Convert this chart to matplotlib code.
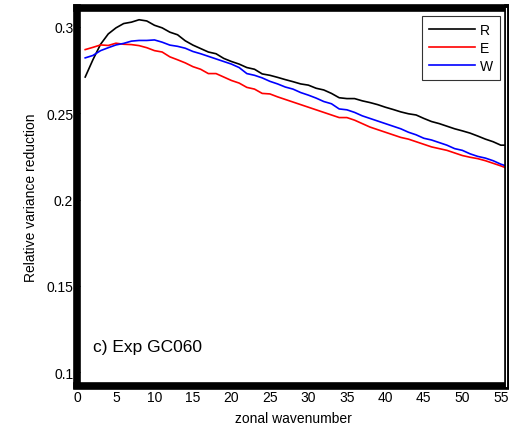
import matplotlib
matplotlib.use("Agg")
import matplotlib.pyplot as plt
import numpy as np

plt.rcParams['font.family'] = ['Liberation Sans', 'DejaVu Sans']

wavenumber = list(range(1, 57))

var_red_R = [0.2710, 0.2810, 0.2900, 0.2960, 0.2995, 0.3020, 0.3028, 0.3042,
             0.3035, 0.3010, 0.2995, 0.2970, 0.2955, 0.2920, 0.2895, 0.2875,
             0.2855, 0.2845, 0.2818, 0.2800, 0.2785, 0.2765, 0.2755, 0.2728,
             0.2720, 0.2708, 0.2695, 0.2683, 0.2670, 0.2663, 0.2645, 0.2635,
             0.2615, 0.2590, 0.2585, 0.2585, 0.2572, 0.2562, 0.2550, 0.2535,
             0.2522, 0.2508, 0.2497, 0.2490, 0.2470, 0.2452, 0.2440, 0.2425,
             0.2410, 0.2398, 0.2385, 0.2368, 0.2350, 0.2335, 0.2315, 0.2315]

var_red_E = [0.2869, 0.2882, 0.2896, 0.2893, 0.2906, 0.2900, 0.2898, 0.2892,
             0.2880, 0.2863, 0.2855, 0.2827, 0.2810, 0.2792, 0.2770, 0.2755,
             0.2730, 0.2730, 0.2710, 0.2690, 0.2675, 0.2650, 0.2640, 0.2615,
             0.2612, 0.2595, 0.2580, 0.2565, 0.2550, 0.2535, 0.2520, 0.2505,
             0.2490, 0.2475, 0.2475, 0.2460, 0.2440, 0.2420, 0.2405, 0.2390,
             0.2375, 0.2360, 0.2350, 0.2335, 0.2320, 0.2305, 0.2295, 0.2285,
             0.2270, 0.2255, 0.2245, 0.2237, 0.2225, 0.2210, 0.2195, 0.2178]

var_red_W = [0.2821, 0.2835, 0.2863, 0.2880, 0.2896, 0.2905, 0.2918, 0.2922,
             0.2922, 0.2925, 0.2912, 0.2895, 0.2888, 0.2877, 0.2858, 0.2845,
             0.2830, 0.2815, 0.2800, 0.2785, 0.2765, 0.2730, 0.2720, 0.2705,
             0.2685, 0.2670, 0.2652, 0.2640, 0.2620, 0.2605, 0.2588, 0.2568,
             0.2555, 0.2525, 0.2520, 0.2505, 0.2485, 0.2470, 0.2455, 0.2440,
             0.2425, 0.2410, 0.2390, 0.2375, 0.2355, 0.2345, 0.2330, 0.2315,
             0.2295, 0.2285, 0.2265, 0.2250, 0.2240, 0.2225, 0.2205, 0.2190]

x_ticks = [0, 5, 10, 15, 20, 25, 30, 35, 40, 45, 50, 55]
y_ticks = [0.1, 0.15, 0.2, 0.25, 0.3]
y_tick_labels = ["0.1", "0.15", "0.2", "0.25", "0.3"]

W, H = 510, 431
left_px, right_px, top_px, bottom_px = 77.5, 508.5, 8.5, 386.5

fig = plt.figure(figsize=(W / 100, H / 100), dpi=100)
ax = fig.add_axes([left_px / W, 1 - bottom_px / H,
                   (right_px - left_px) / W, (bottom_px - top_px) / H])

lw = 1.2
ax.plot(wavenumber, var_red_R, color="black", lw=lw, label="R")
ax.plot(wavenumber, var_red_E, color="red", lw=lw, label="E")
ax.plot(wavenumber, var_red_W, color="blue", lw=lw, label="W")

ax.set_xlim(0, 56)
ax.set_ylim(0.0922, 0.3113)
ax.set_xticks(x_ticks)
ax.set_yticks(y_ticks)
ax.set_yticklabels(y_tick_labels)
ax.tick_params(direction="in", length=2, width=0.8, labelsize=10, pad=3)

for side in ["left", "top", "bottom", "right"]:
    ax.spines[side].set_linewidth(5.5)
    ax.spines[side].set_color("black")

# thin inner edge separated from the heavy right frame by a white gap
gap_x = (506 - left_px) / (right_px - left_px)
ax.plot([gap_x, gap_x], [0.0, 1.0], transform=ax.transAxes, color="white",
        lw=0.8, clip_on=False, zorder=3)

ax.set_xlabel("zonal wavenumber", fontsize=10, labelpad=5)
ax.set_ylabel("Relative variance reduction", fontsize=10, labelpad=6)

ax.text(2.0, 0.1105, "c) Exp GC060", fontsize=12.5, ha="left", va="bottom")

leg = ax.legend(loc="upper right", fontsize=10, frameon=True, fancybox=False,
                handlelength=3.3, handletextpad=0.4, borderpad=0.5,
                labelspacing=0.3, borderaxespad=0.6)
leg.get_frame().set_edgecolor("black")
leg.get_frame().set_linewidth(0.8)

fig.savefig("out.png", dpi=100)
